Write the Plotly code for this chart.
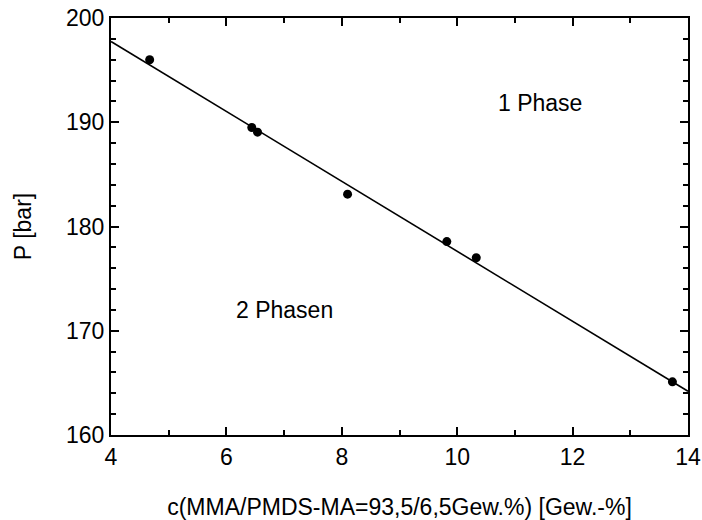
import plotly.graph_objects as go

# Measured data points
conc = [4.67, 6.44, 6.54, 8.10, 9.82, 10.33, 13.73]
pressure = [196.0, 189.5, 189.05, 183.1, 178.55, 177.0, 165.1]

# Phase boundary line (endpoints at axis limits)
line_x = [4.0, 14.0]
line_y = [197.75, 164.2]

x_title = "c(MMA/PMDS-MA=93,5/6,5Gew.%) [Gew.-%]"
y_title = "P [bar]"
label_1 = "1 Phase"
label_2 = "2 Phasen"

FONT = "Liberation Sans, Arial, sans-serif"
FS = 23

fig = go.Figure()
fig.add_trace(go.Scatter(x=line_x, y=line_y, mode="lines",
                         line=dict(color="black", width=1.6), showlegend=False))
fig.add_trace(go.Scatter(x=conc, y=pressure, mode="markers",
                         marker=dict(color="black", size=9), showlegend=False))

fig.add_annotation(x=11.43, y=191.85, text=label_1, showarrow=False,
                   font=dict(family=FONT, size=FS, color="black"))
fig.add_annotation(x=7.0, y=172.0, text=label_2, showarrow=False,
                   font=dict(family=FONT, size=FS, color="black"))

axis_common = dict(showline=True, linecolor="black", linewidth=2, mirror="allticks",
                   ticks="inside", tickcolor="black", tickwidth=1.5, ticklen=8,
                   showgrid=False, zeroline=False, automargin=False,
                   tickfont=dict(family=FONT, size=FS, color="black"),
                   title_font=dict(family=FONT, size=FS, color="black"))

fig.update_xaxes(range=[4, 14], tick0=4, dtick=2,
                 minor=dict(ticks="inside", dtick=1, ticklen=5, tickcolor="black", tickwidth=1.5),
                 title_text=x_title, title_standoff=30, **axis_common)
fig.update_yaxes(range=[160, 200], tick0=160, dtick=10,
                 minor=dict(ticks="inside", dtick=2, ticklen=5, tickcolor="black", tickwidth=1.5),
                 title_text=y_title, title_standoff=28, **axis_common)

fig.update_layout(width=702, height=520, plot_bgcolor="white", paper_bgcolor="white",
                  margin=dict(l=111, r=14, t=18, b=85),
                  font=dict(family=FONT, size=FS, color="black"))

fig.write_html("out.html")
